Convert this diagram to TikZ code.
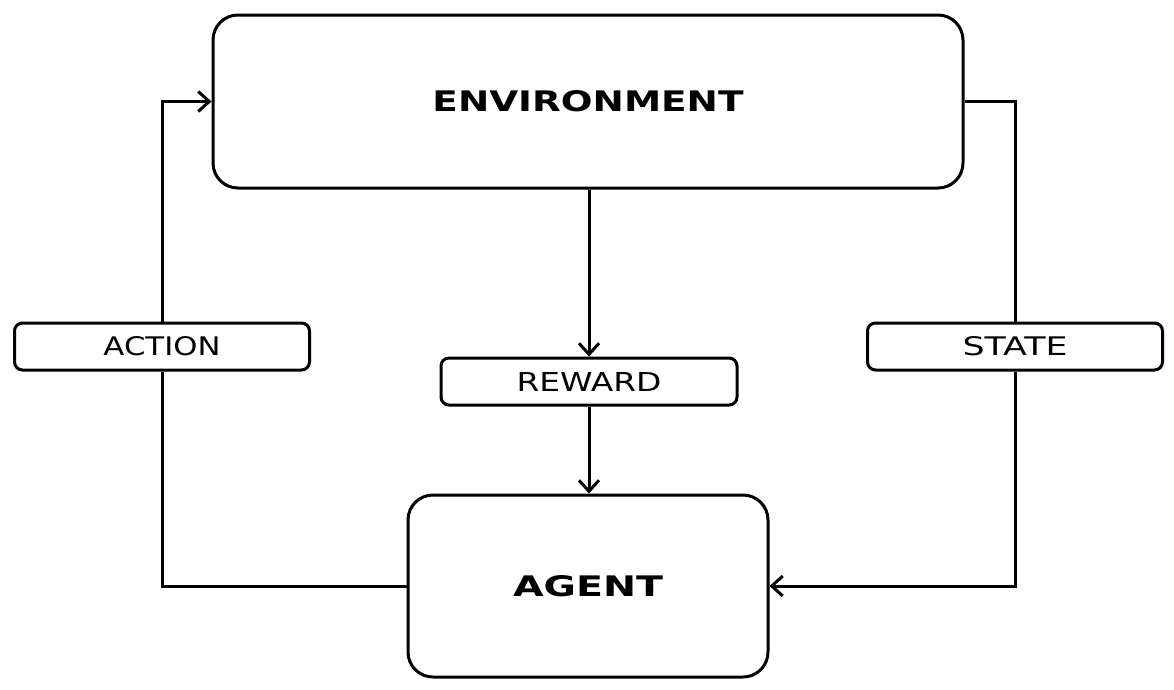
\documentclass[tikz,border=0pt]{standalone}
\usepackage{fontspec}
\setmainfont{DejaVu Sans}
\usetikzlibrary{arrows.meta}
\tikzset{
  box/.style={draw, line width=3pt, fill=white, inner sep=0pt, rounded corners=25pt},
  lbl/.style={draw, line width=3pt, fill=white, inner sep=0pt, rounded corners=8pt,
              minimum width=295pt, minimum height=47pt},
  conn/.style={line width=3pt},
  arr/.style={conn, -{Straight Barb[length=11pt,width=20pt,line width=3pt]}}
}
\begin{document}
\begin{tikzpicture}[x=1pt,y=-1pt]
\useasboundingbox (0,0) rectangle (1174,689);
\fill[white] (0,0) rectangle (1174,689);
% nodes
\node[box, minimum width=750pt, minimum height=173pt] (env) at (588,101.5)
  {\resizebox{311pt}{21pt}{\bfseries ENVIRONMENT}};
\node[box, minimum width=360pt, minimum height=182pt] (agent) at (588,586)
  {\resizebox{150pt}{21pt}{\bfseries AGENT}};
\node[lbl] (action) at (162,346.5) {\resizebox{117pt}{19pt}{ACTION}};
\node[lbl, minimum width=296pt] (reward) at (589,381.5) {\resizebox{145pt}{19pt}{REWARD}};
\node[lbl] (state) at (1015,346.5) {\resizebox{105pt}{19pt}{STATE}};
% connectors
\draw[conn] (agent.west) -| (action.south);
\draw[arr] (action.north) |- (env.west);
\draw[conn] (env.east) -| (state.north);
\draw[arr] (state.south) |- (agent.east);
\draw[arr] (env.south -| reward.north) -- (reward.north);
\draw[arr] (reward.south) -- (agent.north -| reward.south);
\end{tikzpicture}
\end{document}
